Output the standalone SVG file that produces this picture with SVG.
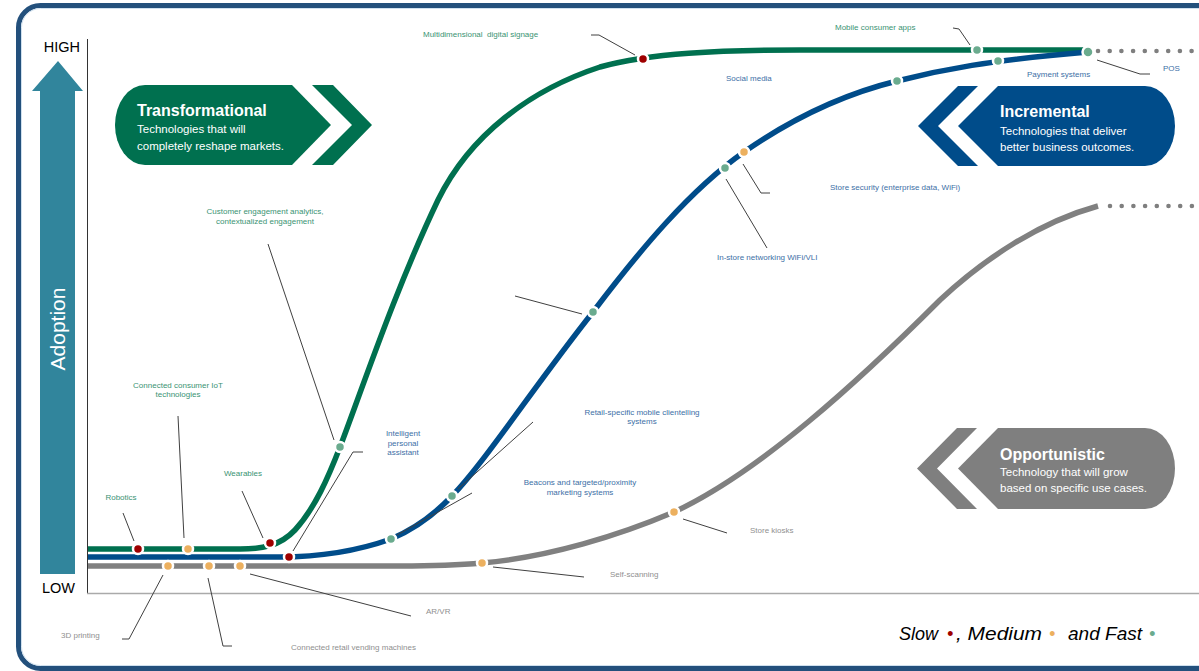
<svg xmlns="http://www.w3.org/2000/svg" width="1199" height="671" viewBox="0 0 1199 671">
<style>
.lbl{font-family:"Liberation Sans",Arial,sans-serif;font-size:8px}
.g{fill:#3a9373}
.b{fill:#3d6fa6}
.k{fill:#8f8f8f}
.mid{text-anchor:middle}
.lead{stroke:#404040;stroke-width:1;fill:none}
.dot{stroke:#ffffff;stroke-width:2.5}
.slow{fill:#9e0000}
.med{fill:#ecb05f}
.fast{fill:#6aab8e}
.curve{fill:none;stroke-width:5.5}
.ttl{font-family:"Liberation Sans",Arial,sans-serif;font-weight:bold;font-size:16px;fill:#ffffff}
.sub{font-family:"Liberation Sans",Arial,sans-serif;font-size:11.5px;fill:#ffffff}
.leg{font-family:"Liberation Sans",Arial,sans-serif;font-style:italic;font-size:18px;fill:#000000}
.ax{font-family:"Liberation Sans",Arial,sans-serif;font-size:14.5px;fill:#000000}
</style>
<rect x="0" y="0" width="1199" height="671" fill="#ffffff"/>
<g id="frame">
<rect x="18.5" y="5.5" width="1210" height="663" rx="22" fill="none" stroke="#23507c" stroke-width="5"/>
<rect x="21.5" y="8.5" width="1210" height="657" rx="19" fill="none" stroke="#cfe0ee" stroke-width="1"/>
</g>
<g id="axes">
<line x1="87.5" y1="39" x2="87.5" y2="593" stroke="#333333" stroke-width="1"/>
<line x1="87" y1="593.5" x2="1199" y2="593.5" stroke="#aaaaaa" stroke-width="1.5"/>
<text class="ax" x="80" y="52" text-anchor="end">HIGH</text>
<text class="ax" x="75" y="593" text-anchor="end">LOW</text>
</g>
<g id="adoption-arrow">
<polygon points="32,91 58,61 83,91 75,91 75,574 40,574 40,91" fill="#31859c"/>
<text transform="translate(65,329) rotate(-90)" text-anchor="middle" font-family="Liberation Sans, Arial, sans-serif" font-size="21" fill="#ffffff">Adoption</text>
</g>
<g id="transformational">
<path d="M145,85 H292 L331,125 L292,165 H145 A30 40 0 0 1 115,125 A30 40 0 0 1 145,85 Z" fill="#00704f"/>
<polygon points="312,85 333,85 372,125 333,165 312,165 352,125" fill="#00704f"/>
<text class="ttl" x="137" y="116">Transformational</text>
<text class="sub" x="137" y="133">Technologies that will</text>
<text class="sub" x="137" y="150">completely reshape markets.</text>
</g>
<g id="incremental">
<path d="M998,86 H1145 A30 40 0 0 1 1175,126 A30 40 0 0 1 1145,166 H998 L958,126 Z" fill="#004c8a"/>
<polygon points="958,86 978,86 938,126 978,166 958,166 918,126" fill="#004c8a"/>
<text class="ttl" x="1000" y="117">Incremental</text>
<text class="sub" x="1000" y="135">Technologies that deliver</text>
<text class="sub" x="1000" y="151">better business outcomes.</text>
</g>
<g id="opportunistic">
<path d="M998,428 H1145 A30 40.5 0 0 1 1175,468.5 A30 40.5 0 0 1 1145,509 H998 L958,468.5 Z" fill="#7f7f7f"/>
<polygon points="957,428 977,428 937,468.5 977,509 957,509 917,468.5" fill="#7f7f7f"/>
<text class="ttl" x="1000" y="460">Opportunistic</text>
<text class="sub" x="1000" y="476" font-size="11">Technology that will grow</text>
<text class="sub" x="1000" y="492" font-size="11">based on specific use cases.</text>
</g>
<g id="curves">
<path class="curve" stroke="#00704f" d="M88,549 L240,549 C262,549 280,546 295,530 C315,508 328,478 340,447 C360,395 395,290 438,200 C470,135 530,90 600,67 C650,53 720,50 800,50 L1088,50"/>
<path class="curve" stroke="#004c8a" d="M88,557 L280,557 C320,557 360,550 391,539 C410,531 432,517 452,496 C485,462 535,385 593,312 C640,250 690,190 744,152 C790,120 840,95 897,81 C940,70 990,60 1088,52"/>
<path class="curve" stroke="#808080" d="M88,566 L400,566 C440,566 460,565 482,563 C550,557 620,535 674,512 C760,472 860,380 940,300 C985,258 1040,222 1098,206"/>
<line x1="1098" y1="51" x2="1199" y2="51" stroke="#7f7f7f" stroke-width="4.6" stroke-linecap="round" stroke-dasharray="0 11.7"/>
<line x1="1110" y1="206" x2="1199" y2="206" stroke="#7f7f7f" stroke-width="4.6" stroke-linecap="round" stroke-dasharray="0 11.7"/>
</g>
<g id="connectors">
<polyline class="lead" points="123,513 134,541"/>
<polyline class="lead" points="178,416 184,538"/>
<polyline class="lead" points="242,491 263,538"/>
<polyline class="lead" points="268,244 334,440"/>
<polyline class="lead" points="363,452 353,452 293,551"/>
<polyline class="lead" points="591,35 599,35 635,55"/>
<polyline class="lead" points="953,28 959,29 970,45"/>
<polyline class="lead" points="1097,60 1140,74 1150,74"/>
<polyline class="lead" points="743,164 761,193 770,193"/>
<polyline class="lead" points="726,179 767,248"/>
<polyline class="lead" points="515,296 582,314"/>
<polyline class="lead" points="533,422 458,489"/>
<polyline class="lead" points="472,493 397,535"/>
<polyline class="lead" points="493,567 584,577"/>
<polyline class="lead" points="683,519 727,533"/>
<polyline class="lead" points="163,575 129,639 122,639"/>
<polyline class="lead" points="208,578 223,646 232,646"/>
<polyline class="lead" points="250,574 411,616"/>
</g>
<g id="robotics"><circle class="dot slow" cx="138" cy="549" r="5"/><text class="lbl g mid" x="121" y="500">Robotics</text></g>
<g id="connected-iot"><circle class="dot med" cx="188" cy="549" r="5"/><text class="lbl g mid" x="178" y="388">Connected consumer IoT</text><text class="lbl g mid" x="178" y="397">technologies</text></g>
<g id="wearables"><circle class="dot slow" cx="270" cy="543" r="5"/><text class="lbl g mid" x="243" y="476">Wearables</text></g>
<g id="customer-engagement"><circle class="dot fast" cx="340" cy="447" r="5"/><text class="lbl g mid" x="265" y="214">Customer engagement analytics,</text><text class="lbl g mid" x="265" y="224">contextualized engagement</text></g>
<g id="digital-signage"><circle class="dot slow" cx="643" cy="59" r="5"/><text class="lbl g" x="423" y="37">Multidimensional&#160; digital signage</text></g>
<g id="mobile-apps"><circle class="dot fast" cx="977" cy="50" r="5"/><text class="lbl g" x="835" y="30">Mobile consumer apps</text></g>
<g id="personal-assistant"><circle class="dot slow" cx="289" cy="557" r="5"/><text class="lbl b mid" x="403" y="436">Intelligent</text><text class="lbl b mid" x="403" y="446">personal</text><text class="lbl b mid" x="403" y="455">assistant</text></g>
<g id="beacons"><circle class="dot fast" cx="391" cy="539" r="5"/><text class="lbl b mid" x="580" y="485">Beacons and targeted/proximity</text><text class="lbl b mid" x="580" y="495">marketing systems</text></g>
<g id="clientelling"><circle class="dot fast" cx="452" cy="496" r="5"/><text class="lbl b mid" x="642" y="415">Retail-specific mobile clientelling</text><text class="lbl b mid" x="642" y="424">systems</text></g>
<g id="blue-mid"><circle class="dot fast" cx="593" cy="312" r="5"/></g>
<g id="in-store-networking"><circle class="dot fast" cx="725" cy="168" r="5"/><text class="lbl b" x="717" y="260">In-store networking WiFi/VLI</text></g>
<g id="store-security"><circle class="dot med" cx="744" cy="152" r="5"/><text class="lbl b" x="830" y="190">Store security (enterprise data, WiFi)</text></g>
<g id="social-media"><circle class="dot fast" cx="897" cy="81" r="5"/><text class="lbl b" x="726" y="81">Social media</text></g>
<g id="payment-systems"><circle class="dot fast" cx="998" cy="61" r="5"/><text class="lbl b" x="1027" y="77">Payment systems</text></g>
<g id="pos"><circle class="dot fast" cx="1088" cy="52" r="5.5"/><text class="lbl b" x="1163" y="71">POS</text></g>
<g id="printing-3d"><circle class="dot med" cx="168" cy="566" r="5"/><text class="lbl k" x="61" y="638">3D printing</text></g>
<g id="vending"><circle class="dot med" cx="209" cy="566" r="5"/><text class="lbl k" x="291" y="650">Connected retail vending machines</text></g>
<g id="ar-vr"><circle class="dot med" cx="240" cy="566" r="5"/><text class="lbl k" x="426" y="614">AR/VR</text></g>
<g id="self-scanning"><circle class="dot med" cx="482" cy="563" r="5"/><text class="lbl k" x="610" y="577">Self-scanning</text></g>
<g id="store-kiosks"><circle class="dot med" cx="674" cy="512" r="5"/><text class="lbl k" x="750" y="533">Store kiosks</text></g>
<g id="legend">
<text class="leg" x="899" y="640">Slow</text>
<text class="leg" x="947" y="640" style="fill:#9e0000">•</text>
<text class="leg" x="956" y="640" textLength="86" lengthAdjust="spacingAndGlyphs">, Medium</text>
<text class="leg" x="1049" y="640" style="fill:#ecb05f">•</text>
<text class="leg" x="1068" y="640" textLength="74" lengthAdjust="spacingAndGlyphs">and Fast</text>
<text class="leg" x="1149" y="640" style="fill:#6aab8e">•</text>
</g>
</svg>
